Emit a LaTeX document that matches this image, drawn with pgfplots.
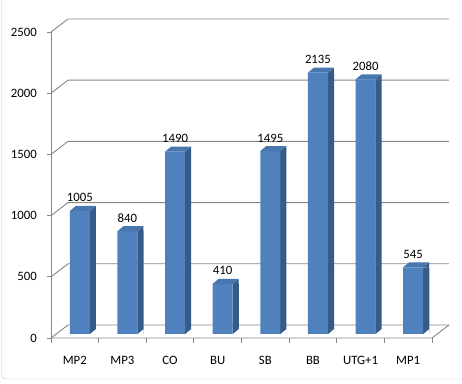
\documentclass[border=0pt]{standalone}
\usepackage{fontspec}
\setmainfont{Carlito}
\usepackage{pgfplots}
\usepackage{pgfplotstable}
\pgfplotsset{compat=1.18}
\definecolor{barfront}{RGB}{79,129,189}
\definecolor{barside}{RGB}{55,91,136}
\definecolor{bartop}{RGB}{72,119,176}
\definecolor{gridgray}{RGB}{134,134,134}

\pgfdeclareplotmark{bar3dtop}{%
 \pgfsetfillcolor{barside}%
 \pgfpathmoveto{\pgfqpoint{9.9bp}{-0.2bp}}%
 \pgfpathlineto{\pgfqpoint{16bp}{5bp}}%
 \pgfpathlineto{\pgfqpoint{16bp}{-0.2bp}}%
 \pgfpathclose
 \pgfusepathqfill
 \pgfsetfillcolor{bartop}%
 \pgfpathmoveto{\pgfqpoint{-10bp}{0bp}}%
 \pgfpathlineto{\pgfqpoint{-4bp}{5bp}}%
 \pgfpathlineto{\pgfqpoint{16bp}{5bp}}%
 \pgfpathlineto{\pgfqpoint{10bp}{0bp}}%
 \pgfpathclose
 \pgfusepathqfill
}
\pgfdeclareplotmark{bar3dbase}{%
 \pgfsetfillcolor{white}%
 \pgfpathmoveto{\pgfqpoint{10bp}{-0.3bp}}%
 \pgfpathlineto{\pgfqpoint{16.3bp}{-0.3bp}}%
 \pgfpathlineto{\pgfqpoint{16.3bp}{5bp}}%
 \pgfpathclose
 \pgfusepathqfill
}

\pgfplotstableread{
x y
0 1005
1 840
2 1490
3 410
4 1495
5 2135
6 2080
7 545
}\datatable

\begin{document}
\begin{tikzpicture}[font=\fontsize{12.8}{15}\selectfont]
\path[use as bounding box] (0,0) rectangle (462bp,384bp);
\draw[black!22] (1.5bp,390bp) -- (1.5bp,9bp) arc[start angle=180,end angle=270,radius=4bp] -- (470bp,5bp);
\begin{axis}[
  scale only axis, width=381bp, height=306bp,
  at={(56bp,50bp)}, anchor=south west,
  xmin=-0.5, xmax=7.5, ymin=0, ymax=2500,
  clip=false,
  axis line style={draw=none},
  tick style={draw=none},
  ytick={0,500,...,2500},
  xtick={0,...,7},
  xticklabels={MP2,MP3,CO,BU,SB,BB,UTG+1,MP1},
  xticklabel style={anchor=center, xshift=-5bp, yshift=-26bp},
  yticklabel style={anchor=east, inner sep=0pt, xshift=-19bp, yshift=-4bp},
  /pgf/number format/1000 sep={},
  /pgf/number format/assume math mode=true,
]
% back wall grid and connectors
\pgfplotsinvokeforeach{0,500,1000,1500,2000,2500}{
  \draw[gridgray, line width=0.9bp] ([shift={(-5bp,-4bp)}]axis cs:-0.5,#1) -- ([shift={(12bp,9bp)}]axis cs:-0.5,#1) -- ([shift={(12bp,9bp)}]axis cs:7.5,#1);
  \draw[gridgray, line width=0.9bp] ([shift={(-9bp,-4bp)}]axis cs:-0.5,#1) -- ([shift={(-5bp,-4bp)}]axis cs:-0.5,#1);
}
% front vertical axis
\draw[gridgray, line width=0.9bp] ([shift={(-5bp,-4bp)}]axis cs:-0.5,0) -- ([shift={(-5bp,-4bp)}]axis cs:-0.5,2500);
% floor
\draw[gridgray, line width=0.9bp] ([shift={(-5bp,-4bp)}]axis cs:-0.5,0) -- ([shift={(-5bp,-4bp)}]axis cs:7.5,0) -- ([shift={(12bp,9bp)}]axis cs:7.5,0);
\pgfplotsinvokeforeach{-0.5,0.5,1.5,2.5,3.5,4.5,5.5,6.5,7.5}{
  \draw[gridgray, line width=0.9bp] ([shift={(-5bp,-4bp)}]axis cs:#1,0) -- ([shift={(-5bp,-9bp)}]axis cs:#1,0);
}
% side faces
\addplot[ybar, bar width=6.2bp, bar shift=13bp, fill=barside, draw=none] table[x=x,y=y]{\datatable};
\addplot[only marks, mark=bar3dbase] table[x=x, y expr=0]{\datatable};
% front faces
\addplot[ybar, bar width=20bp, bar shift=0pt, fill=barfront, draw=none,
  nodes near coords,
  nodes near coords style={anchor=base, inner sep=0pt, yshift=9bp, text=black}] table[x=x,y=y]{\datatable};
% top faces
\addplot[only marks, mark=bar3dtop] table[x=x,y=y]{\datatable};
\end{axis}
\end{tikzpicture}
\end{document}
